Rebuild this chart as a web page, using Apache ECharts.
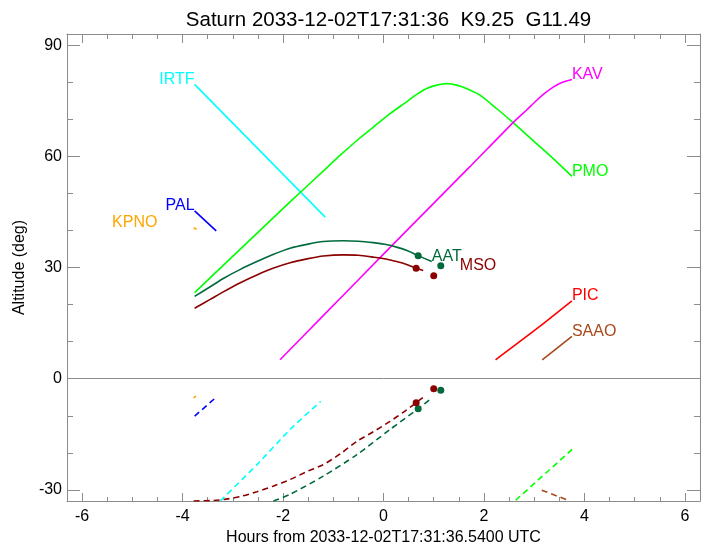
<!DOCTYPE html>
<html>
<head>
<meta charset="utf-8">
<script src="https://cdn.jsdelivr.net/npm/echarts@6/dist/echarts.min.js"></script>
<style>html,body{margin:0;padding:0;background:#fff}#c{width:708px;height:546px}</style>
</head>
<body>
<div id="c"></div>
<script>
// ---- data (hours from reference time, altitude in degrees) ----
const xMajor = [-6, -4, -2, 0, 2, 4, 6];
const xMinor = [-5.5, -5, -4.5, -3.5, -3, -2.5, -1.5, -1, -0.5, 0.5, 1, 1.5, 2.5, 3, 3.5, 4.5, 5, 5.5];
const yMajor = [-30, 0, 30, 60, 90];
const yMinor = [-20, -10, 10, 20, 40, 50, 70, 80];

const irtfUp   = [[-3.76, 79.4], [-1.16, 43.6]];
const irtfSun  = [[-3.25, -33.0], [-2.52, -23.2], [-1.86, -13.7], [-1.25, -6.1]];
const palUp    = [[-3.76, 45.3], [-3.33, 39.9]];
const palSun   = [[-3.76, -10.1], [-3.33, -5.0]];
const kpnoUp   = [[-3.78, 40.7], [-3.72, 40.3]];
const kpnoSun  = [[-3.78, -5.2], [-3.73, -4.7]];
const pmoUp    = [[-3.76, 23.2], [-3.18, 30.7], [-2.52, 39.2], [-1.86, 47.7], [-1.2, 56.0], [-0.86, 60.3],
                  [-0.5, 64.6], [-0.2, 67.9], [0.13, 71.5], [0.46, 74.7], [0.66, 76.7], [0.86, 78.3], [1.06, 79.2],
                  [1.26, 79.6], [1.46, 79.2], [1.65, 78.3], [1.92, 76.5], [2.25, 72.9], [2.58, 69.1],
                  [3.04, 63.5], [3.4, 59.1], [3.75, 54.6]];
const pmoSun   = [[2.63, -32.8], [3.77, -18.9]];
const kavUp    = [[-2.06, 5.1], [-1.2, 17.0], [-0.47, 27.1], [0.5, 40.5], [1.72, 57.2], [2.58, 69.1],
                  [2.85, 72.5], [3.04, 75.0], [3.2, 76.9], [3.37, 78.6], [3.55, 79.9], [3.75, 80.7]];
const aatUp    = [[-3.76, 22.2], [-3.45, 24.8], [-3.18, 27.1], [-2.85, 29.5], [-2.52, 31.6], [-2.2, 33.5], [-1.86, 35.2],
                  [-1.5, 36.3], [-1.2, 37.0], [-0.8, 37.2], [-0.5, 37.1], [-0.2, 36.7], [0.05, 36.2], [0.26, 35.5],
                  [0.48, 34.5], [0.69, 33.2], [0.96, 31.6]];
const aatSun   = [[-2.19, -33.0], [-1.86, -31.2], [-1.2, -26.3], [-0.53, -20.5], [0.13, -13.7], [0.69, -8.1], [0.96, -5.2]];
const aatDots  = [[0.69, 33.2], [1.14, 30.5], [0.69, -8.1], [1.14, -3.1]];
const msoUp    = [[-3.76, 19.0], [-3.45, 21.4], [-3.18, 23.5], [-2.85, 25.9], [-2.52, 28.0], [-2.2, 29.8], [-1.86, 31.3],
                  [-1.5, 32.4], [-1.2, 33.1], [-0.8, 33.4], [-0.5, 33.3], [-0.2, 32.8], [0.05, 32.3], [0.26, 31.6],
                  [0.46, 30.8], [0.65, 29.8], [0.79, 29.2]];
const msoSun   = [[-3.78, -33.0], [-3.45, -32.9], [-3.18, -32.6], [-2.85, -31.8], [-2.52, -30.5], [-2.2, -29.0], [-1.86, -27.2],
                  [-1.5, -24.9], [-1.2, -23.2], [-0.85, -20.2], [-0.53, -16.9], [-0.2, -14.3], [0.13, -11.5], [0.4, -9.0], [0.65, -6.5], [0.79, -5.0]];
const msoDots  = [[0.65, 29.8], [1.0, 27.8], [0.65, -6.5], [1.0, -2.7]];
const picUp    = [[2.23, 5.1], [3.11, 14.1], [3.75, 21.0]];
const saaoUp   = [[3.16, 5.1], [3.75, 11.4]];
const saaoSun  = [[3.15, -30.1], [3.7, -32.9]];

const stationNames  = ['IRTF', 'PAL', 'KPNO', 'KAV', 'PMO', 'AAT', 'MSO', 'PIC', 'SAAO'];
const labelAnchors  = [[-3.76, 79.4], [-3.76, 45.3], [-4.5, 40.7], [3.75, 80.7], [3.75, 54.6],
                       [0.96, 31.6], [1.52, 29.2], [3.75, 21.0], [3.75, 11.4]];

const titleText = 'Saturn 2033-12-02T17:31:36  K9.25  G11.49';
const xTitle = 'Hours from 2033-12-02T17:31:36.5400 UTC';
const yTitle = 'Altitude (deg)';

// ---- styling ----
const C = {
  IRTF: '#00ffff', PAL: '#0000ff', KPNO: '#ffa500', KAV: '#ff00ff', PMO: '#00ff00',
  AAT: '#006a3c', MSO: '#8b0000', PIC: '#ff0000', SAAO: '#a8481c'
};
const labelAlign = { IRTF: 'right', PAL: 'right', KPNO: 'right' };
const FONT = 'Liberation Sans, Helvetica, Arial, sans-serif';
const AX = '#8c8c8c';

function lineSeries(data, color, dashed, smooth) {
  return {
    type: 'line', data: data, xAxisIndex: 0, yAxisIndex: 0,
    symbol: 'none', smooth: smooth || false, clip: true, silent: true,
    lineStyle: { color: color, width: 1.6, type: dashed ? [6, 4] : 'solid' },
    z: 3
  };
}
function dotSeries(data, color) {
  return {
    type: 'scatter', data: data, xAxisIndex: 0, yAxisIndex: 0,
    symbol: 'circle', symbolSize: 7, itemStyle: { color: color, opacity: 1 }, silent: true, z: 4
  };
}

function xAx(pos, ticks, len, showLine, showLabels) {
  return {
    type: 'value', position: pos, min: -6.3, max: 6.3, gridIndex: 0,
    axisLine: { show: showLine, onZero: false, lineStyle: { color: AX, width: 1 } },
    axisTick: { show: true, inside: true, length: len, customValues: ticks, lineStyle: { color: AX, width: 1 } },
    axisLabel: showLabels ? { show: true, customValues: ticks, color: '#000', fontSize: 16, fontFamily: FONT, margin: 8 } : { show: false },
    splitLine: { show: false },
    name: showLabels ? xTitle : '', nameLocation: 'middle', nameGap: 26,
    nameTextStyle: { color: '#000', fontSize: 16, fontFamily: FONT }
  };
}
function yAx(pos, ticks, len, showLine, showLabels) {
  return {
    type: 'value', position: pos, min: -33, max: 93, gridIndex: 0,
    axisLine: { show: showLine, onZero: false, lineStyle: { color: AX, width: 1 } },
    axisTick: { show: true, inside: true, length: len, customValues: ticks, lineStyle: { color: AX, width: 1 } },
    axisLabel: showLabels ? { show: true, customValues: ticks, color: '#000', fontSize: 16, fontFamily: FONT, margin: 5 } : { show: false },
    splitLine: { show: false },
    name: showLabels ? yTitle : '', nameLocation: 'middle', nameGap: 38, nameRotate: 90,
    nameTextStyle: { color: '#000', fontSize: 16, fontFamily: FONT }
  };
}

const labelData = stationNames.map((n, i) => ({
  value: labelAnchors[i],
  label: {
    show: true, formatter: n, color: C[n], fontSize: 16, fontFamily: FONT,
    position: [0, 0], align: labelAlign[n] || 'left', verticalAlign: 'bottom', offset: [0, 3]
  }
}));

const series = [
  lineSeries(irtfUp, C.IRTF, false), lineSeries(irtfSun, C.IRTF, true, 0.2),
  lineSeries(palUp, C.PAL, false), lineSeries(palSun, C.PAL, true),
  lineSeries(kpnoUp, C.KPNO, false), lineSeries(kpnoSun, C.KPNO, true),
  lineSeries(pmoUp, C.PMO, false, 0.25), lineSeries(pmoSun, C.PMO, true),
  lineSeries(kavUp, C.KAV, false, 0.25),
  lineSeries(aatUp, C.AAT, false, 0.25), lineSeries(aatSun, C.AAT, true, 0.25), dotSeries(aatDots, C.AAT),
  lineSeries(msoUp, C.MSO, false, 0.25), lineSeries(msoSun, C.MSO, true, 0.25), dotSeries(msoDots, C.MSO),
  lineSeries(picUp, C.PIC, false, 0.25),
  lineSeries(saaoUp, C.SAAO, false), lineSeries(saaoSun, C.SAAO, true),
  {
    type: 'scatter', data: labelData, xAxisIndex: 0, yAxisIndex: 0,
    symbol: 'circle', symbolSize: 0.01, itemStyle: { color: 'rgba(0,0,0,0)', opacity: 1 }, silent: true, z: 5,
    markLine: {
      silent: true, symbol: ['none', 'none'], animation: false,
      label: { show: false },
      lineStyle: { color: AX, width: 1, type: 'solid' },
      data: [{ yAxis: 0 }]
    }
  }
];

const chart = echarts.init(document.getElementById('c'), null, { renderer: 'canvas' });
chart.setOption({
  animation: false,
  backgroundColor: '#fff',
  title: {
    text: titleText, left: 383.5, top: 5, textAlign: 'center',
    textStyle: { color: '#000', fontSize: 20.5, fontWeight: 'normal', fontFamily: FONT }
  },
  grid: { left: 67, right: 8, top: 34, bottom: 45, containLabel: false, outerBoundsMode: 'none' },
  xAxis: [
    xAx('bottom', xMajor, 8, true, true),
    xAx('bottom', xMinor, 4, false, false),
    xAx('top', xMajor, 9, true, false),
    xAx('top', xMinor, 5, false, false)
  ],
  yAxis: [
    yAx('left', yMajor, 13, true, true),
    yAx('left', yMinor, 6, false, false),
    yAx('right', yMajor, 13, true, false),
    yAx('right', yMinor, 6, false, false)
  ],
  series: series
});
</script>
</body>
</html>
